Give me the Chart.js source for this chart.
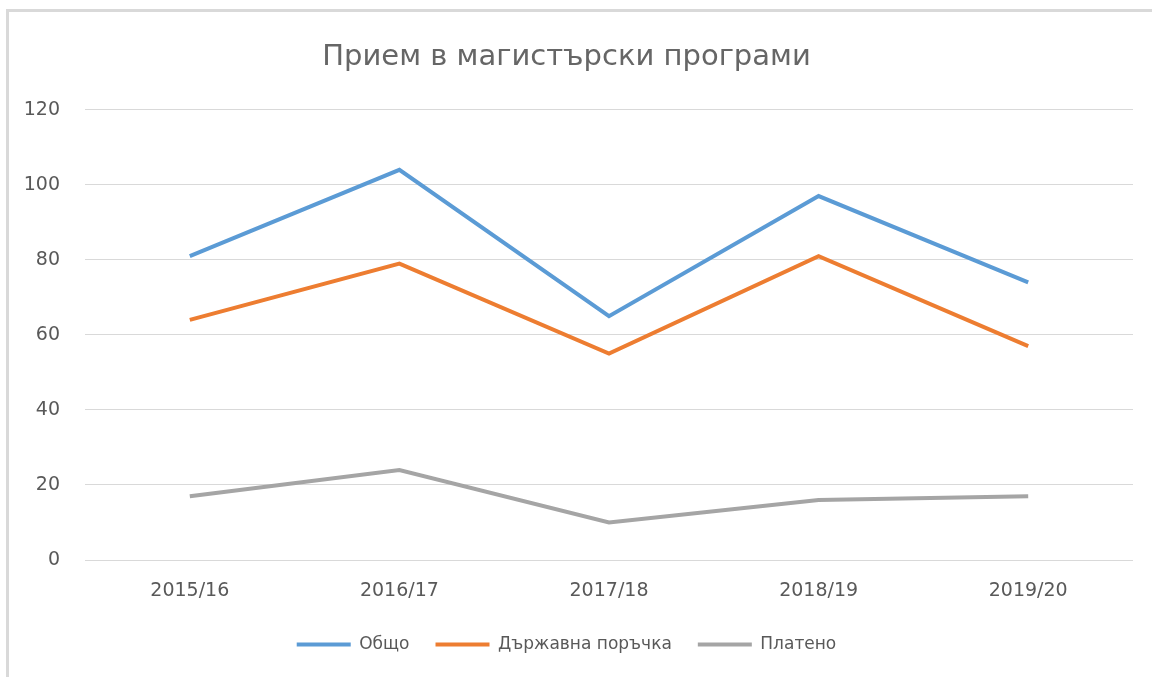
<!DOCTYPE html>
<html>
<head>
<meta charset="utf-8">
<script src="https://cdn.jsdelivr.net/npm/chart.js@4/dist/chart.umd.min.js"></script>
<style>
  html, body { margin: 0; padding: 0; background: #fff; overflow: hidden; }
  #frame {
    position: absolute; left: 6px; top: 9px;
    width: 1200px; height: 720px;
    border: 3px solid #d9d9d9;
  }
  #wrap { position: absolute; left: 0; top: 0; width: 1152px; height: 677px; }
</style>
</head>
<body>
<div id="frame"></div>
<div id="wrap"><canvas id="myChart"></canvas></div>
<script>
const labels = ['2015/16', '2016/17', '2017/18', '2018/19', '2019/20'];
const obshto = [81, 104, 65, 97, 74];
const darzhavna = [64, 79, 55, 81, 57];
const plateno = [17, 24, 10, 16, 17];
const yTicks = [0, 20, 40, 60, 80, 100, 120];

const fontFamily = "'DejaVu Sans', sans-serif";
const textColor = '#595959';

function makeSet(label, values, color) {
    return {
        label: label,
        data: values,
        borderColor: color,
        backgroundColor: color,
        borderWidth: 4,
        pointRadius: 0,
        tension: 0,
    };
}

const data = {
    labels,
    datasets: [
        makeSet('Общо', obshto, '#5b9bd5'),
        makeSet('Държавна поръчка', darzhavna, '#ed7d31'),
        makeSet('Платено', plateno, '#a5a5a5'),
    ],
};

const config = {
    type: 'line',
    data: data,
    options: {
        responsive: true,
        maintainAspectRatio: false,
        animation: false,
        layout: { padding: { left: 0, right: 19, top: 0, bottom: 14 } },
        plugins: {
            title: {
                display: true,
                text: 'Прием в магистърски програми',
                color: '#666666',
                font: { family: fontFamily, size: 29, weight: 'normal' },
                padding: { top: 40, bottom: 35 },
            },
            legend: {
                position: 'bottom',
                labels: {
                    color: textColor,
                    font: { family: fontFamily, size: 17 },
                    boxWidth: 54,
                    boxHeight: 4,
                    padding: 26,
                    generateLabels: function (chart) {
                        const items = Chart.defaults.plugins.legend.labels.generateLabels(chart);
                        items.forEach(function (it) { it.lineWidth = 0; });
                        return items;
                    },
                },
            },
            tooltip: { enabled: false },
        },
        scales: {
            x: {
                offset: true,
                grid: { display: false, drawTicks: false },
                border: { display: false },
                ticks: {
                    color: textColor,
                    font: { family: fontFamily, size: 19 },
                    padding: 20,
                },
                afterFit: function (scale) { scale.height = 50; },
            },
            y: {
                min: 0,
                max: 120,
                grid: { color: '#d9d9d9', lineWidth: 1, drawTicks: false },
                border: { display: false },
                afterBuildTicks: function (scale) {
                    scale.ticks = yTicks.map(function (v) { return { value: v }; });
                },
                ticks: {
                    color: textColor,
                    font: { family: fontFamily, size: 19 },
                    padding: 25,
                },
                afterFit: function (scale) { scale.width = 85; },
            },
        },
    },
};

const myChart = new Chart(document.getElementById('myChart'), config);
</script>
</body>
</html>
